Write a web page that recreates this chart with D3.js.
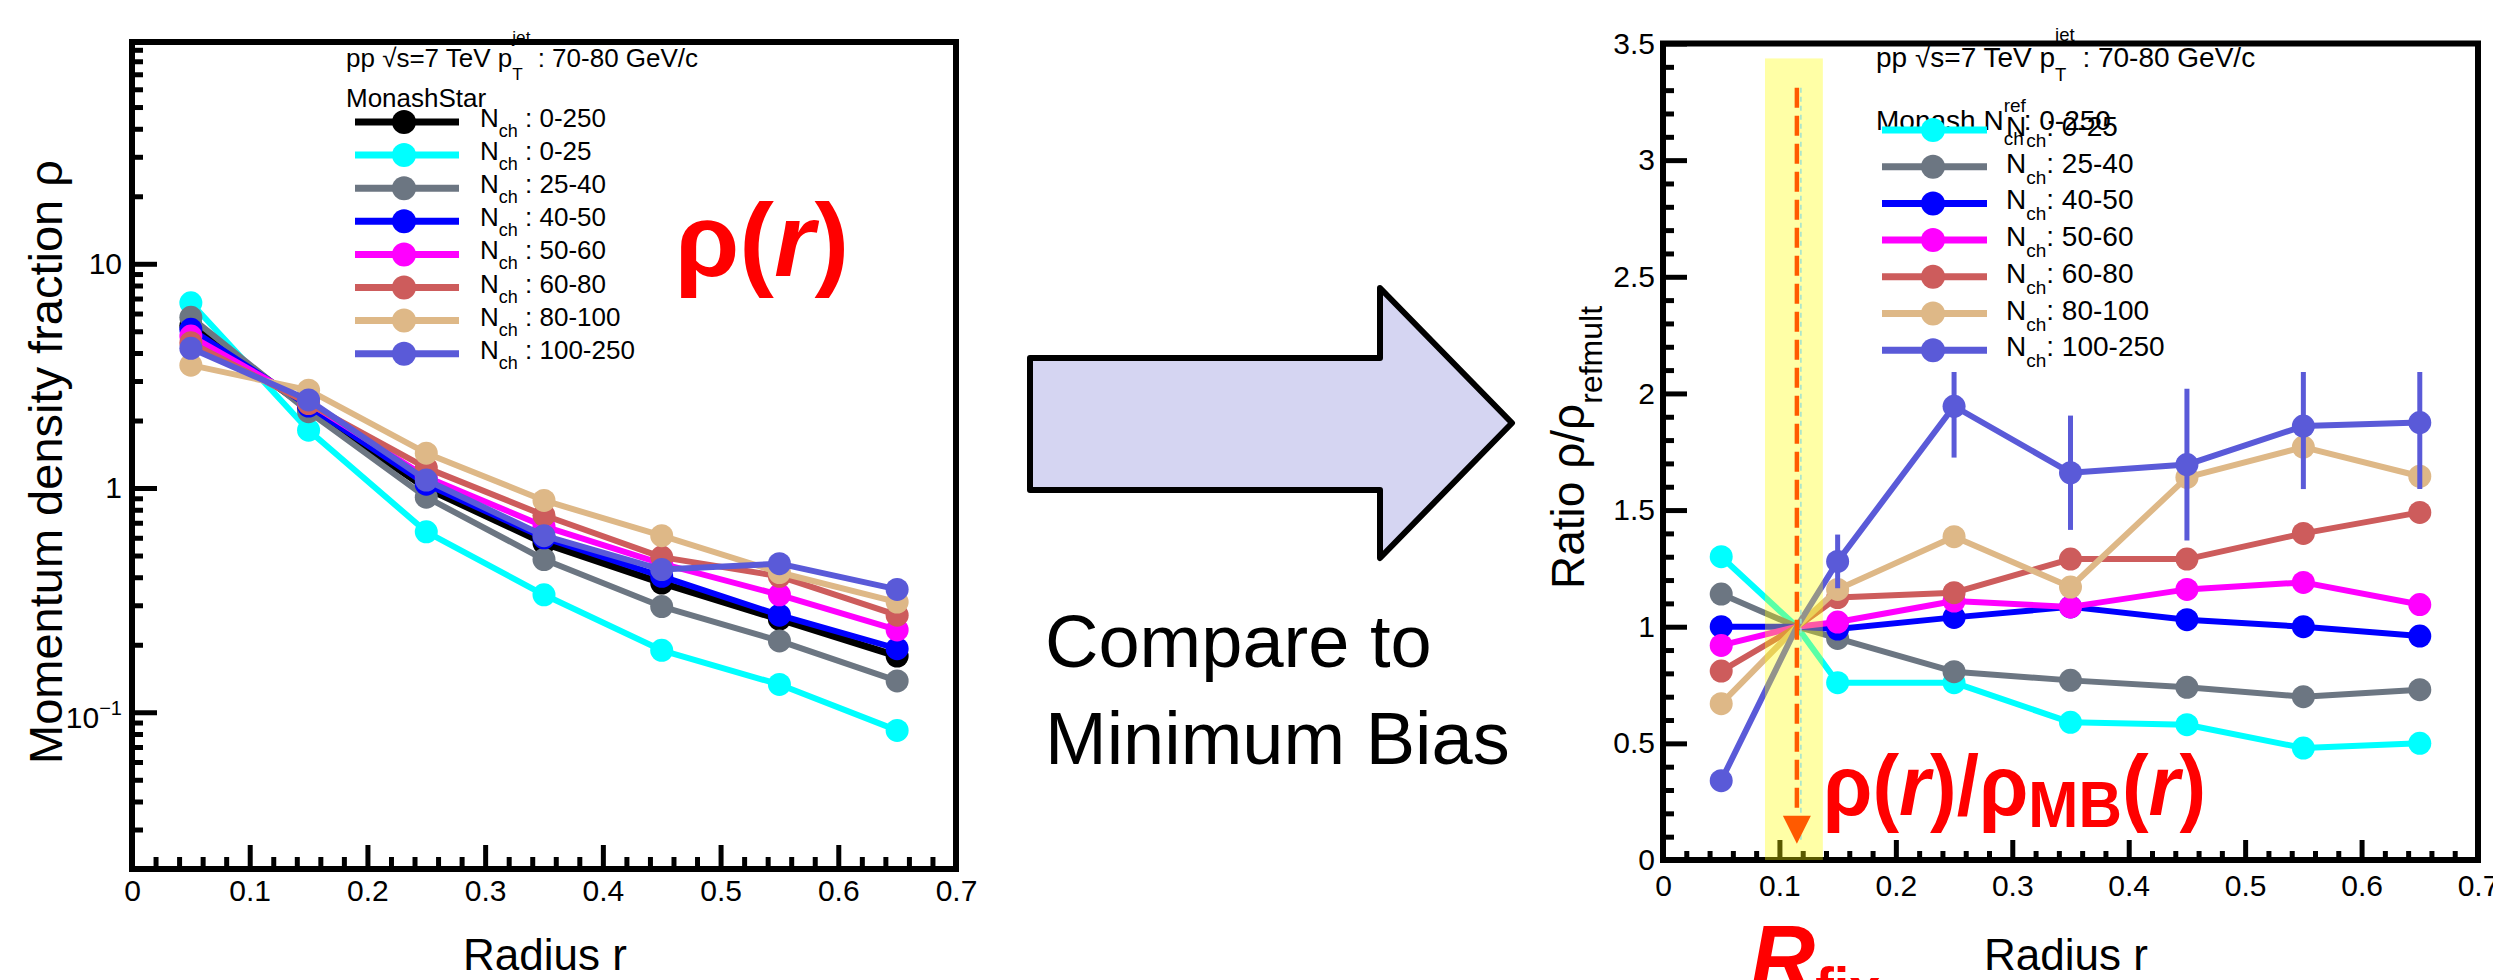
<!DOCTYPE html>
<html><head><meta charset="utf-8">
<script src="https://cdn.jsdelivr.net/npm/d3@7"></script>
<style>
html,body{margin:0;padding:0;background:#fff;overflow:hidden;}
svg{display:block;}
</style></head><body>
<svg id="c" width="2493" height="980"></svg>
<script>
// ---------------- DATA ----------------
const radius = [0.05, 0.15, 0.25, 0.35, 0.45, 0.55, 0.65];
const multBins = ["0-250", "0-25", "25-40", "40-50", "50-60", "60-80", "80-100", "100-250"];
const binColors = ["#000000", "#00ffff", "#6c7682", "#0000ff", "#ff00ff", "#cd5c5c", "#deb887", "#5a5ad8"];

// Momentum density fraction rho(r) (left panel, log scale)
const rho_0_250   = [5.30, 2.26, 1.00, 0.568, 0.377, 0.260, 0.178];
const rho_0_25    = [6.70, 1.81, 0.638, 0.334, 0.189, 0.133, 0.083];
const rho_25_40   = [5.77, 2.19, 0.910, 0.480, 0.296, 0.208, 0.138];
const rho_40_50   = [5.10, 2.32, 1.04, 0.600, 0.404, 0.271, 0.192];
const rho_50_60   = [4.76, 2.40, 1.12, 0.675, 0.460, 0.334, 0.233];
const rho_60_80   = [4.45, 2.38, 1.23, 0.756, 0.492, 0.404, 0.271];
const rho_80_100  = [3.53, 2.73, 1.43, 0.880, 0.613, 0.420, 0.310];
const rho_100_250 = [4.20, 2.47, 1.085, 0.613, 0.433, 0.460, 0.353];

// Ratio rho / rho_refmult (right panel)
const ratio_0_25    = [1.30, 0.76, 0.76, 0.59, 0.58, 0.48, 0.50];
const ratio_25_40   = [1.14, 0.95, 0.807, 0.77, 0.74, 0.70, 0.73];
const ratio_40_50   = [1.00, 0.99, 1.04, 1.085, 1.03, 1.00, 0.96];
const ratio_50_60   = [0.92, 1.02, 1.11, 1.085, 1.16, 1.19, 1.095];
const ratio_60_80   = [0.81, 1.125, 1.146, 1.29, 1.29, 1.40, 1.49];
const ratio_80_100  = [0.67, 1.16, 1.386, 1.17, 1.64, 1.77, 1.645];
const ratio_100_250 = [0.34, 1.28, 1.945, 1.66, 1.695, 1.86, 1.875];
const ratio_100_250_err = [0.02, 0.115, 0.22, 0.245, 0.325, 0.27, 0.285];
const rFix = 0.115;          // normalisation radius
const ratioAtFix = 1.0;
const fixBand = [0.0876, 0.1373];

// Tick labels
const xTickValues = [0, 0.1, 0.2, 0.3, 0.4, 0.5, 0.6, 0.7];
const xTickLabels = ["0", "0.1", "0.2", "0.3", "0.4", "0.5", "0.6", "0.7"];
const logTickValues = [0.1, 1, 10];
const ratioTickValues = [0, 0.5, 1, 1.5, 2, 2.5, 3, 3.5];
const ratioTickLabels = ["0", "0.5", "1", "1.5", "2", "2.5", "3", "3.5"];

const rhoSeries = [rho_0_250, rho_0_25, rho_25_40, rho_40_50, rho_50_60, rho_60_80, rho_80_100, rho_100_250];
const ratioSeries = [null, ratio_0_25, ratio_25_40, ratio_40_50, ratio_50_60, ratio_60_80, ratio_80_100, ratio_100_250];

// ---------------- SETUP ----------------
const FONT = '"Liberation Sans", Arial, Helvetica, sans-serif';
const svg = d3.select("#c").attr("font-family", FONT);
svg.append("rect").attr("width", 2493).attr("height", 980).attr("fill", "#fff");

const tmp = svg.append("text").attr("font-family", FONT).attr("visibility", "hidden");
function measure(str, size, weight = "normal", style = "normal") {
  tmp.attr("font-size", size).attr("font-weight", weight).attr("font-style", style).text(str);
  return tmp.node().getComputedTextLength();
}
function rich(parent, x, y, size, parts, attrs = {}) {
  const t = parent.append("text").attr("x", x).attr("y", y).attr("font-size", size).attr("font-family", FONT);
  for (const k in attrs) t.attr(k, attrs[k]);
  parts.forEach(p => {
    const ts = t.append("tspan").text(p.t);
    if (p.size) ts.attr("font-size", p.size);
    if (p.dy) ts.attr("dy", p.dy);
    if (p.dx) ts.attr("dx", p.dx);
    if (p.style) ts.attr("font-style", p.style);
    if (p.weight) ts.attr("font-weight", p.weight);
  });
  return t;
}
function styleAxis(g, size) {
  g.attr("font-family", FONT).attr("font-size", size);
  g.select(".domain").remove();
  g.selectAll(".tick line").attr("stroke", "#000").attr("stroke-width", 5);
  g.selectAll(".tick text").attr("fill", "#000");
}
function header(parent, x, y, S) {
  const sub = S * 0.66;
  rich(parent, x, y, S, [
    { t: "pp \u221As=7 TeV p" },
    { t: "T", size: sub, dy: S * 0.5 },
    { t: "jet", size: sub, dx: -measure("T", sub), dy: -S * 1.42 },
    { t: " : 70-80 GeV/c", dy: S * 0.92 }
  ]);
}

// ---------------- LEFT PANEL ----------------
const xL = d3.scaleLinear().domain([0, 0.7]).range([132, 956]);
const yL = d3.scaleLog().domain([0.02, 97.5]).range([869, 42]);
const gL = svg.append("g");

// axes
const lxMaj = gL.append("g").attr("transform", `translate(0,${yL.range()[0]})`)
  .call(d3.axisBottom(xL).tickValues(xTickValues).tickSize(-24).tickPadding(11)
    .tickFormat((d, i) => xTickLabels[i]));
styleAxis(lxMaj, 30);
const lxMin = gL.append("g").attr("transform", `translate(0,${yL.range()[0]})`)
  .call(d3.axisBottom(xL).tickValues(d3.range(1, 35).filter(i => i % 5).map(i => i * 0.02))
    .tickSize(-12).tickFormat(""));
styleAxis(lxMin, 30);
const lyMaj = gL.append("g").attr("transform", `translate(${xL.range()[0]},0)`)
  .call(d3.axisLeft(yL).tickValues(logTickValues).tickSize(-25).tickPadding(10).tickFormat(d => d === 0.1 ? "10" : String(d)));
styleAxis(lyMaj, 30);
lyMaj.selectAll(".tick text").filter(d => d === 0.1).attr("dy", "0.5em")
  .append("tspan").text("\u22121").attr("font-size", 20).attr("dy", -13);
const minorLog = [0.01, 0.1, 1, 10].flatMap(dec => d3.range(2, 10).map(k => k * dec))
  .filter(v => v > 0.02 && v < 97.5);
const lyMin = gL.append("g").attr("transform", `translate(${xL.range()[0]},0)`)
  .call(d3.axisLeft(yL).tickValues(minorLog).tickSize(-11).tickFormat(""));
styleAxis(lyMin, 30);

// frame
gL.append("rect").attr("x", 132).attr("y", 42).attr("width", 956 - 132).attr("height", 869 - 42)
  .attr("fill", "none").attr("stroke", "#000").attr("stroke-width", 6);

// data
const lineL = d3.line().x(d => xL(d.r)).y(d => yL(d.v));
rhoSeries.forEach((vals, si) => {
  const pts = radius.map((r, i) => ({ r, v: vals[i] }));
  gL.append("path").attr("d", lineL(pts)).attr("fill", "none")
    .attr("stroke", binColors[si]).attr("stroke-width", si === 0 ? 7 : 6).attr("stroke-linejoin", "round");
  gL.selectAll(null).data(pts).enter().append("circle")
    .attr("cx", d => xL(d.r)).attr("cy", d => yL(d.v)).attr("r", 11.5).attr("fill", binColors[si]);
});

// legend (left)
header(gL, 346, 67, 26);
gL.append("text").attr("x", 346).attr("y", 107).attr("font-size", 26).text("MonashStar");
multBins.forEach((b, i) => {
  const cy = 122 + 33.1 * i;
  gL.append("line").attr("x1", 355).attr("x2", 459).attr("y1", cy).attr("y2", cy)
    .attr("stroke", binColors[i]).attr("stroke-width", 7);
  gL.append("circle").attr("cx", 404).attr("cy", cy).attr("r", 12).attr("fill", binColors[i]);
  rich(gL, 480, cy + 5, 26, [
    { t: "N" }, { t: "ch", size: 18, dy: 10 }, { t: " : " + b, dy: -10 }
  ]);
});

// titles
svg.append("text").attr("transform", "translate(62,462) rotate(-90)")
  .attr("text-anchor", "middle").attr("font-size", 47).text("Momentum density fraction \u03C1");
svg.append("text").attr("x", 545).attr("y", 970).attr("text-anchor", "middle")
  .attr("font-size", 44).text("Radius r");

// big red label rho(r)
rich(svg, 675, 276, 104, [
  { t: "\u03C1(" }, { t: "r", style: "italic" }, { t: ")" }
], { fill: "#ff0000", "font-weight": "bold" });

// ---------------- CENTER ARROW ----------------
const arrowPts = [[1030, 358], [1380, 358], [1380, 288], [1512, 423], [1380, 558], [1380, 490], [1030, 490]];
svg.append("polygon").attr("points", arrowPts.map(p => p.join(",")).join(" "))
  .attr("fill", "#d5d5f2").attr("stroke", "#000").attr("stroke-width", 6).attr("stroke-linejoin", "round");
svg.append("text").attr("x", 1045).attr("y", 667).attr("font-size", 74).text("Compare to");
svg.append("text").attr("x", 1045).attr("y", 764).attr("font-size", 74).text("Minimum Bias");

// ---------------- RIGHT PANEL ----------------
const xR = d3.scaleLinear().domain([0, 0.7]).range([1663, 2478]);
const yR = d3.scaleLinear().domain([0, 3.5]).range([860, 43.5]);
const gR = svg.append("g");

const rxMaj = gR.append("g").attr("transform", `translate(0,${yR.range()[0]})`)
  .call(d3.axisBottom(xR).tickValues(xTickValues).tickSize(-20).tickPadding(15)
    .tickFormat((d, i) => xTickLabels[i]));
styleAxis(rxMaj, 30);
const rxMin = gR.append("g").attr("transform", `translate(0,${yR.range()[0]})`)
  .call(d3.axisBottom(xR).tickValues(d3.range(1, 35).filter(i => i % 5).map(i => i * 0.02))
    .tickSize(-9).tickFormat(""));
styleAxis(rxMin, 30);
const ryMaj = gR.append("g").attr("transform", `translate(${xR.range()[0]},0)`)
  .call(d3.axisLeft(yR).tickValues(ratioTickValues).tickSize(-24).tickPadding(8)
    .tickFormat((d, i) => ratioTickLabels[i]));
styleAxis(ryMaj, 30);
const ryMin = gR.append("g").attr("transform", `translate(${xR.range()[0]},0)`)
  .call(d3.axisLeft(yR).tickValues(d3.range(1, 35).filter(i => i % 5).map(i => i * 0.1))
    .tickSize(-11).tickFormat(""));
styleAxis(ryMin, 30);

gR.append("rect").attr("x", 1663).attr("y", 43.5).attr("width", 2478 - 1663).attr("height", 860 - 43.5)
  .attr("fill", "none").attr("stroke", "#000").attr("stroke-width", 6);

const lineR = d3.line().x(d => xR(d.r)).y(d => yR(d.v));
ratioSeries.forEach((vals, si) => {
  if (!vals) return;
  const pts = radius.map((r, i) => ({ r, v: vals[i] }));
  const linePts = [pts[0], { r: rFix, v: ratioAtFix }, ...pts.slice(1)];
  gR.append("path").attr("d", lineR(linePts)).attr("fill", "none")
    .attr("stroke", binColors[si]).attr("stroke-width", 6).attr("stroke-linejoin", "round");
  if (si === 7) {
    gR.selectAll(null).data(pts.map((p, i) => ({ ...p, e: ratio_100_250_err[i] }))).enter().append("line")
      .attr("x1", d => xR(d.r)).attr("x2", d => xR(d.r))
      .attr("y1", d => yR(d.v - d.e)).attr("y2", d => yR(d.v + d.e))
      .attr("stroke", binColors[si]).attr("stroke-width", 5);
  }
  gR.selectAll(null).data(pts).enter().append("circle")
    .attr("cx", d => xR(d.r)).attr("cy", d => yR(d.v)).attr("r", 11.5).attr("fill", binColors[si]);
});

// R_fix band (translucent overlay)
gR.append("rect").attr("x", xR(fixBand[0])).attr("width", xR(fixBand[1]) - xR(fixBand[0]))
  .attr("y", yR(3.436)).attr("height", yR(0) - yR(3.436))
  .attr("fill", "#ffff00").attr("opacity", 0.35);

// legend box (white) and legend
gR.append("rect").attr("x", 1866).attr("y", 92).attr("width", 600).attr("height", 372 - 92).attr("fill", "#fff");
header(gR, 1876, 67, 28);
rich(gR, 1876, 130, 28, [
  { t: "Monash N" }, { t: "ref", size: 19, dy: -18 },
  { t: "ch", size: 19, dx: -measure("ref", 19), dy: 33 }, { t: ": 0-250", dy: -15 }
]);
multBins.forEach((b, i) => {
  if (i === 0) return;
  const cy = 130 + 36.7 * (i - 1);
  gR.append("line").attr("x1", 1882).attr("x2", 1987).attr("y1", cy).attr("y2", cy)
    .attr("stroke", binColors[i]).attr("stroke-width", 7);
  gR.append("circle").attr("cx", 1933).attr("cy", cy).attr("r", 12).attr("fill", binColors[i]);
  rich(gR, 2006, cy + 6, 28, [
    { t: "N" }, { t: "ch", size: 19, dy: 11 }, { t: ": " + b, dy: -11 }
  ]);
});

// dashed arrow at R_fix
const ax = xR(rFix);
gR.append("line").attr("x1", ax + 4).attr("x2", ax + 4).attr("y1", yR(3.31)).attr("y2", yR(0.07))
  .attr("stroke", "#9fe3d2").attr("stroke-width", 1.5).attr("stroke-dasharray", "5,4");
gR.append("line").attr("x1", ax).attr("x2", ax).attr("y1", yR(3.31)).attr("y2", yR(0.19))
  .attr("stroke", "#ff5a00").attr("stroke-width", 4.5).attr("stroke-dasharray", "20,8");
gR.append("polygon")
  .attr("points", [[ax - 14, yR(0.19)], [ax + 14, yR(0.19)], [ax, yR(0.07)]].map(p => p.join(",")).join(" "))
  .attr("fill", "#ff5a00");

// titles
rich(svg, 0, 0, 46, [
  { t: "Ratio \u03C1/\u03C1" }, { t: "refmult", size: 32, dy: 18 }
], { transform: "translate(1584,589) rotate(-90)" });
svg.append("text").attr("x", 2066).attr("y", 970).attr("text-anchor", "middle")
  .attr("font-size", 44).text("Radius r");

// red annotations
const redG = svg.append("g").attr("transform", "translate(1823,815) scale(0.94,1)");
rich(redG, 0, 0, 85, [
  { t: "\u03C1(" }, { t: "r", style: "italic" }, { t: ")/\u03C1" },
  { t: "MB", size: 64, dy: 12 }, { t: "(", dy: -12 }, { t: "r", style: "italic" }, { t: ")" }
], { fill: "#ff0000", "font-weight": "bold" });
const rfG = svg.append("g").attr("transform", "translate(1750,992) scale(0.93,1)");
rich(rfG, 0, 0, 97, [
  { t: "R", style: "italic" }, { t: "fix", size: 60, dy: 17 }
], { fill: "#ff0000", "font-weight": "bold" });

tmp.remove();
</script>
</body></html>
